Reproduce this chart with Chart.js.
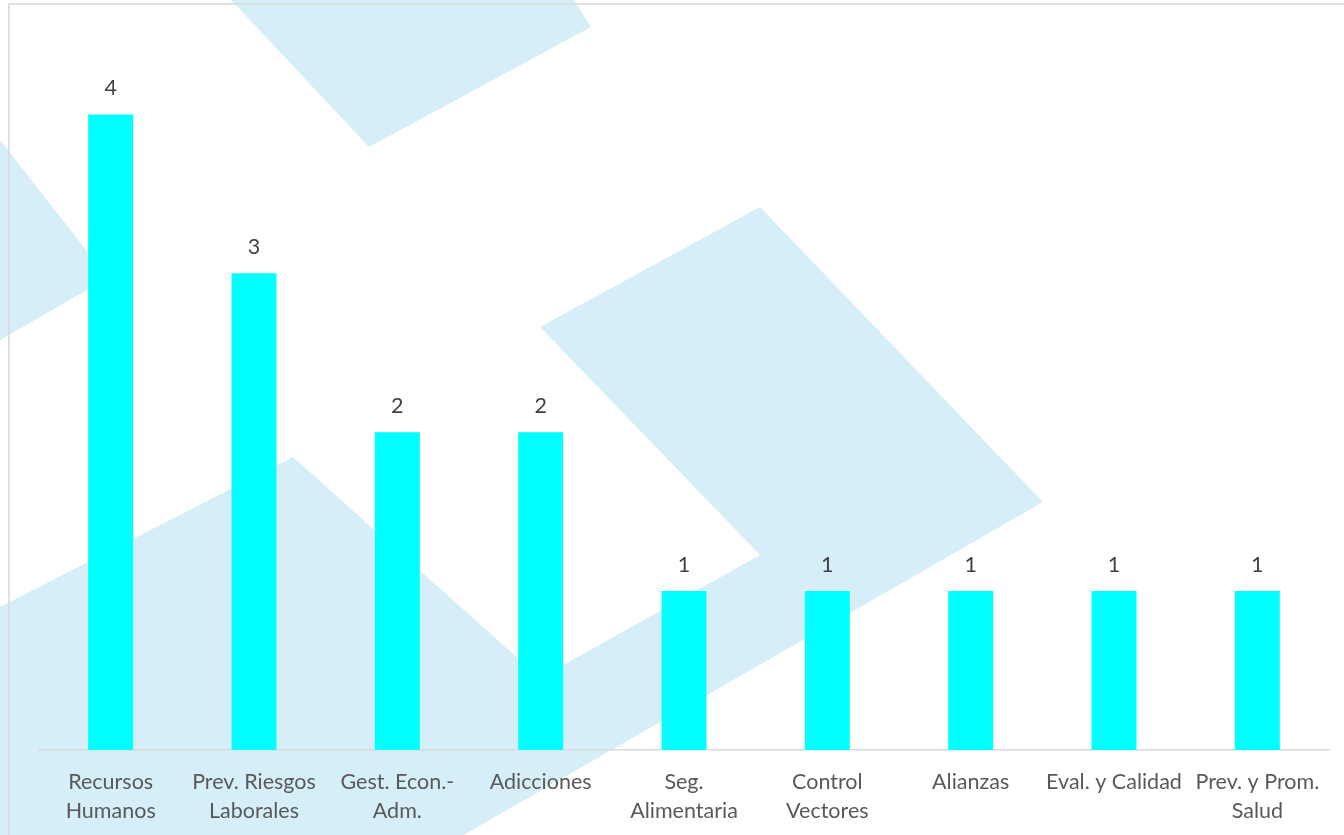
<!DOCTYPE html>
<html>
<head>
<meta charset="utf-8">
<script src="https://cdn.jsdelivr.net/npm/chart.js@4/dist/chart.umd.min.js"></script>
<style>
    html, body { margin: 0; padding: 0; background: #fff; }
    #wrap { width: 1344px; height: 835px; position: relative; }
</style>
</head>
<body>
<div id="wrap"><canvas id="barChart"></canvas></div>
<script>
// Data
const categories = [
    ['Recursos', 'Humanos'],
    ['Prev. Riesgos', 'Laborales'],
    ['Gest. Econ.-', 'Adm.'],
    'Adicciones',
    ['Seg.', 'Alimentaria'],
    ['Control', 'Vectores'],
    'Alianzas',
    'Eval. y Calidad',
    ['Prev. y Prom.', 'Salud']
];
const values = [4, 3, 2, 2, 1, 1, 1, 1, 1];

const FONT = "Lato, 'Open Sans', sans-serif";

// Light blue watermark shapes behind the plot + thin frame
const backdrop = {
    id: 'backdrop',
    beforeDraw(chart) {
        const ctx = chart.ctx;
        ctx.save();
        ctx.fillStyle = '#ffffff';
        ctx.fillRect(0, 0, chart.width, chart.height);
        ctx.fillStyle = '#d6eef8';
        const shapes = [
            [[231, 0], [369, 147], [591, 27], [574, 0]],
            [[0, 140], [108, 278], [0, 340]],
            [[760, 207], [1043, 502], [420, 860], [0, 860], [0, 607], [293, 457],
             [540, 678], [760, 555], [540, 327]]
        ];
        shapes.forEach(pts => {
            ctx.beginPath();
            pts.forEach((p, i) => i ? ctx.lineTo(p[0], p[1]) : ctx.moveTo(p[0], p[1]));
            ctx.closePath();
            ctx.fill();
        });
        ctx.strokeStyle = '#d9d9d9';
        ctx.lineWidth = 1.5;
        ctx.strokeRect(9, 4, chart.width + 20, chart.height + 20);
        ctx.restore();
    }
};

// Value labels above each bar
const valueLabels = {
    id: 'valueLabels',
    afterDatasetsDraw(chart) {
        const ctx = chart.ctx;
        const meta = chart.getDatasetMeta(0);
        ctx.save();
        ctx.font = '21.5px ' + FONT;
        ctx.fillStyle = '#404040';
        ctx.textAlign = 'center';
        ctx.textBaseline = 'alphabetic';
        meta.data.forEach((bar, i) => {
            ctx.fillText(values[i], bar.x, bar.y - 19);
        });
        ctx.restore();
    }
};

document.addEventListener('DOMContentLoaded', function() {
    const ctx = document.getElementById('barChart').getContext('2d');
    new Chart(ctx, {
        type: 'bar',
        data: {
            labels: categories,
            datasets: [{
                data: values,
                backgroundColor: '#00ffff',
                borderWidth: 0,
                barPercentage: 1,
                categoryPercentage: 0.314
            }]
        },
        options: {
            responsive: true,
            maintainAspectRatio: false,
            animation: false,
            layout: { padding: { top: 35, left: 39, right: 15, bottom: 0 } },
            plugins: {
                legend: { display: false },
                tooltip: { enabled: false }
            },
            scales: {
                x: {
                    grid: { display: false, drawTicks: false },
                    border: { display: true, color: '#d9d9d9', width: 1.5 },
                    ticks: {
                        color: '#595959',
                        padding: 18,
                        maxRotation: 0,
                        autoSkip: false,
                        font: { family: FONT, size: 21.5, lineHeight: 1.35 }
                    },
                    afterFit(scale) { scale.height = 85; }
                },
                y: {
                    display: false,
                    min: 0,
                    max: 4.5
                }
            }
        },
        plugins: [backdrop, valueLabels]
    });
});
</script>
</body>
</html>
